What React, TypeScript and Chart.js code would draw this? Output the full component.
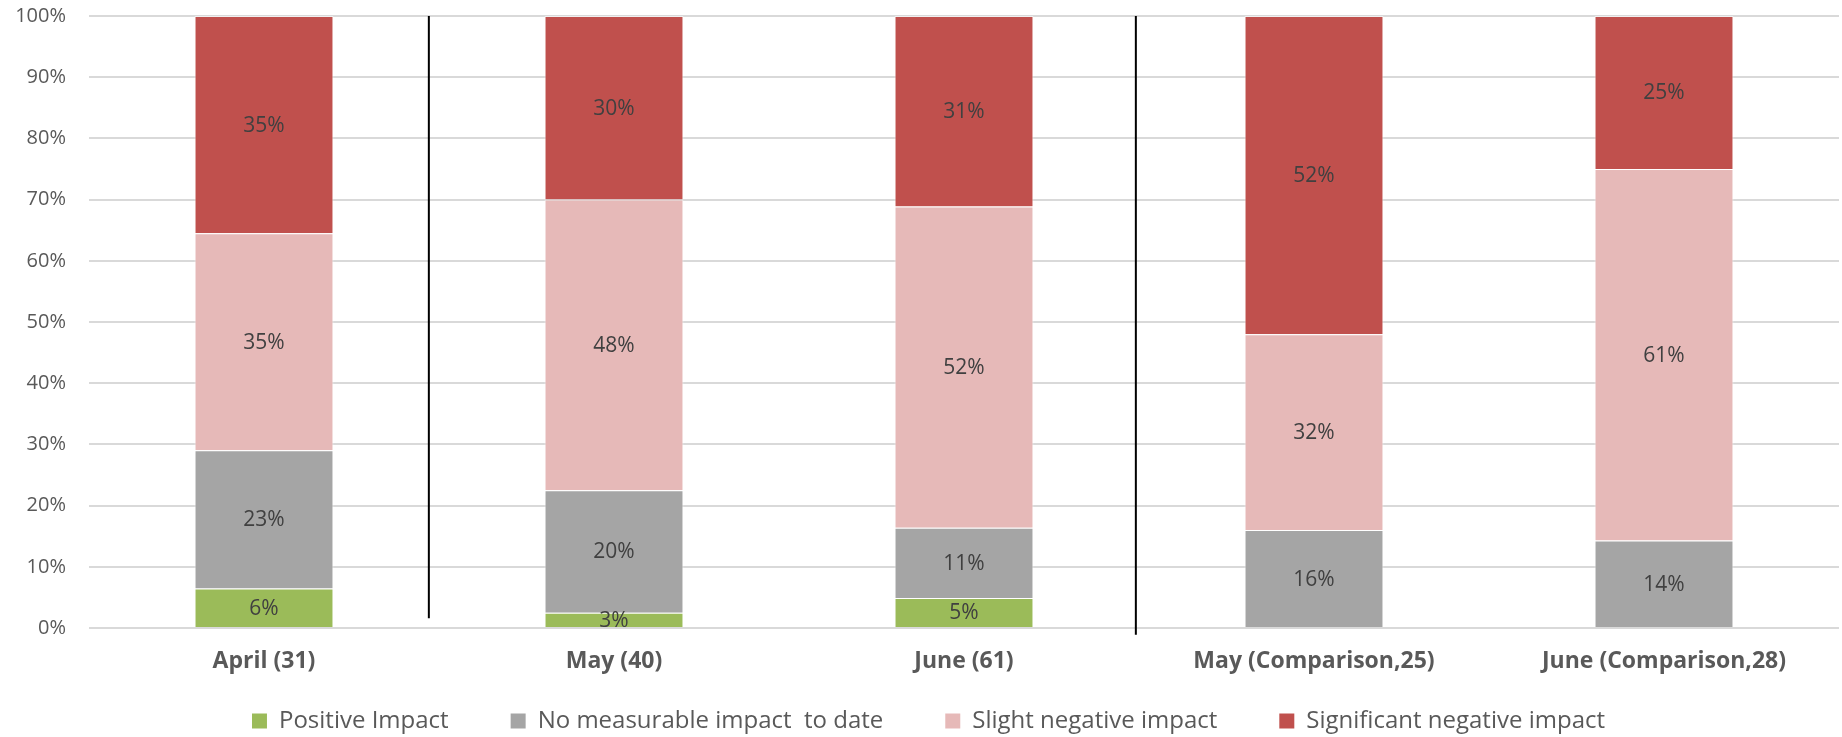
import React, { useEffect, useRef } from "react";
import { Chart, registerables } from "chart.js";

Chart.register(...registerables);

const categories = [
  "April (31)",
  "May (40)",
  "June (61)",
  "May (Comparison,25)",
  "June (Comparison,28)",
];

const seriesNames = [
  "Positive Impact",
  "No measurable impact  to date",
  "Slight negative impact",
  "Significant negative impact",
];

const positiveImpact = [6.45, 2.5, 4.92, 0, 0];
const noMeasurableImpact = [22.58, 20, 11.48, 16, 14.29];
const slightNegative = [35.48, 47.5, 52.46, 32, 60.71];
const significantNegative = [35.48, 30, 31.15, 52, 25];

const seriesColors = ["#9BBB59", "#A5A5A5", "#E6B9B8", "#C0504D"];

const yTicks = [0, 10, 20, 30, 40, 50, 60, 70, 80, 90, 100];

const FONT = "'Open Sans', 'Noto Sans', sans-serif";

const dataLabelPlugin = {
  id: "dataLabels",
  afterDatasetsDraw(chart: any) {
    const ctx = chart.ctx;
    ctx.save();
    ctx.font = `21px ${FONT}`;
    ctx.fillStyle = "#404040";
    ctx.textAlign = "center";
    ctx.textBaseline = "middle";
    chart.data.datasets.forEach((ds: any, di: number) => {
      const meta = chart.getDatasetMeta(di);
      meta.data.forEach((el: any, i: number) => {
        const v = ds.data[i];
        if (!v) return;
        const { x, y, base } = el.getProps(["x", "y", "base"], true);
        ctx.fillText(Math.round(v) + "%", x, (y + base) / 2 + 1);
      });
    });
    ctx.restore();
  },
};

const dividerPlugin = {
  id: "dividers",
  afterDatasetsDraw(chart: any, _args: any, opts: any) {
    const ctx = chart.ctx;
    const xs = chart.scales.x;
    const ys = chart.scales.y;
    ctx.save();
    ctx.strokeStyle = "#000000";
    ctx.lineWidth = 2;
    (opts.lines || []).forEach((l: any) => {
      const x = xs.getPixelForValue(l.at);
      ctx.beginPath();
      ctx.moveTo(x, ys.getPixelForValue(100));
      ctx.lineTo(x, ys.getPixelForValue(l.to));
      ctx.stroke();
    });
    ctx.restore();
  },
};

// After layout: give the category axis room for its labels (they are clipped to the
// scale box) and nudge the legend into place.
const layoutTweakPlugin = {
  id: "layoutTweak",
  afterLayout(chart: any, _args: any, opts: any) {
    const xs = chart.scales.x;
    if (xs) xs.bottom = xs.top + (opts.xLabelRoom || 60);
    const lg = chart.legend;
    if (!lg) return;
    lg.top += opts.dy || 0;
    lg.bottom += opts.dy || 0;
    lg.left += opts.dx || 0;
    lg.right += opts.dx || 0;
  },
};

export default function App() {
  const ref = useRef<HTMLCanvasElement | null>(null);

  useEffect(() => {
    document.body.style.margin = "0";
    const canvas = ref.current;
    if (!canvas) return;
    const values = [positiveImpact, noMeasurableImpact, slightNegative, significantNegative];
    const chart = new Chart(canvas, {
      type: "bar",
      data: {
        labels: categories,
        datasets: seriesNames.map((name, i) => ({
          label: name,
          data: values[i],
          backgroundColor: seriesColors[i],
          borderColor: "rgba(255,255,255,0.6)",
          borderWidth: 1,
          barPercentage: 0.397,
          categoryPercentage: 1,
        })),
      },
      options: {
        responsive: false,
        animation: false,
        layout: { padding: { top: 16, right: 3, left: 0, bottom: 0 } },
        scales: {
          x: {
            stacked: true,
            grid: { display: false, drawTicks: false },
            border: { display: false },
            ticks: {
              color: "#595959",
              padding: 20,
              font: { family: FONT, size: 23, weight: "bold" },
              maxRotation: 0,
              autoSkip: false,
            },
            afterFit(scale: any) {
              scale.height = 13;
            },
          },
          y: {
            stacked: true,
            min: 0,
            max: 100,
            afterBuildTicks(scale: any) {
              scale.ticks = yTicks.map((v) => ({ value: v }));
            },
            grid: { color: "#D9D9D9", lineWidth: 2, drawTicks: false },
            border: { display: false },
            ticks: {
              color: "#595959",
              padding: 23,
              font: { family: FONT, size: 20 },
              callback: (v: any) => v + "%",
            },
            afterFit(scale: any) {
              scale.width = 89;
              scale.paddingTop = 0;
              scale.paddingBottom = 0;
            },
          },
        },
        plugins: {
          legend: {
            position: "bottom",
            labels: {
              color: "#595959",
              font: { family: FONT, size: 24 },
              boxWidth: 15,
              boxHeight: 15,
              padding: 62,
              generateLabels: (c: any) =>
                Chart.defaults.plugins.legend.labels
                  .generateLabels(c)
                  .map((l: any) => ({ ...l, lineWidth: 0, strokeStyle: "transparent" })),
            },
          },
          tooltip: { enabled: false },
          dividers: { lines: [{ at: 0.471, to: 1.6 }, { at: 2.491, to: -1.1 }] },
          layoutTweak: { dy: 6, dx: 9, xLabelRoom: 60 },
        } as any,
      },
      plugins: [dataLabelPlugin, dividerPlugin, layoutTweakPlugin],
    });
    return () => chart.destroy();
  }, []);

  return (
    <div style={{ width: 1842, height: 737 }}>
      <canvas ref={ref} width={1842} height={737} style={{ display: "block" }} />
    </div>
  );
}
